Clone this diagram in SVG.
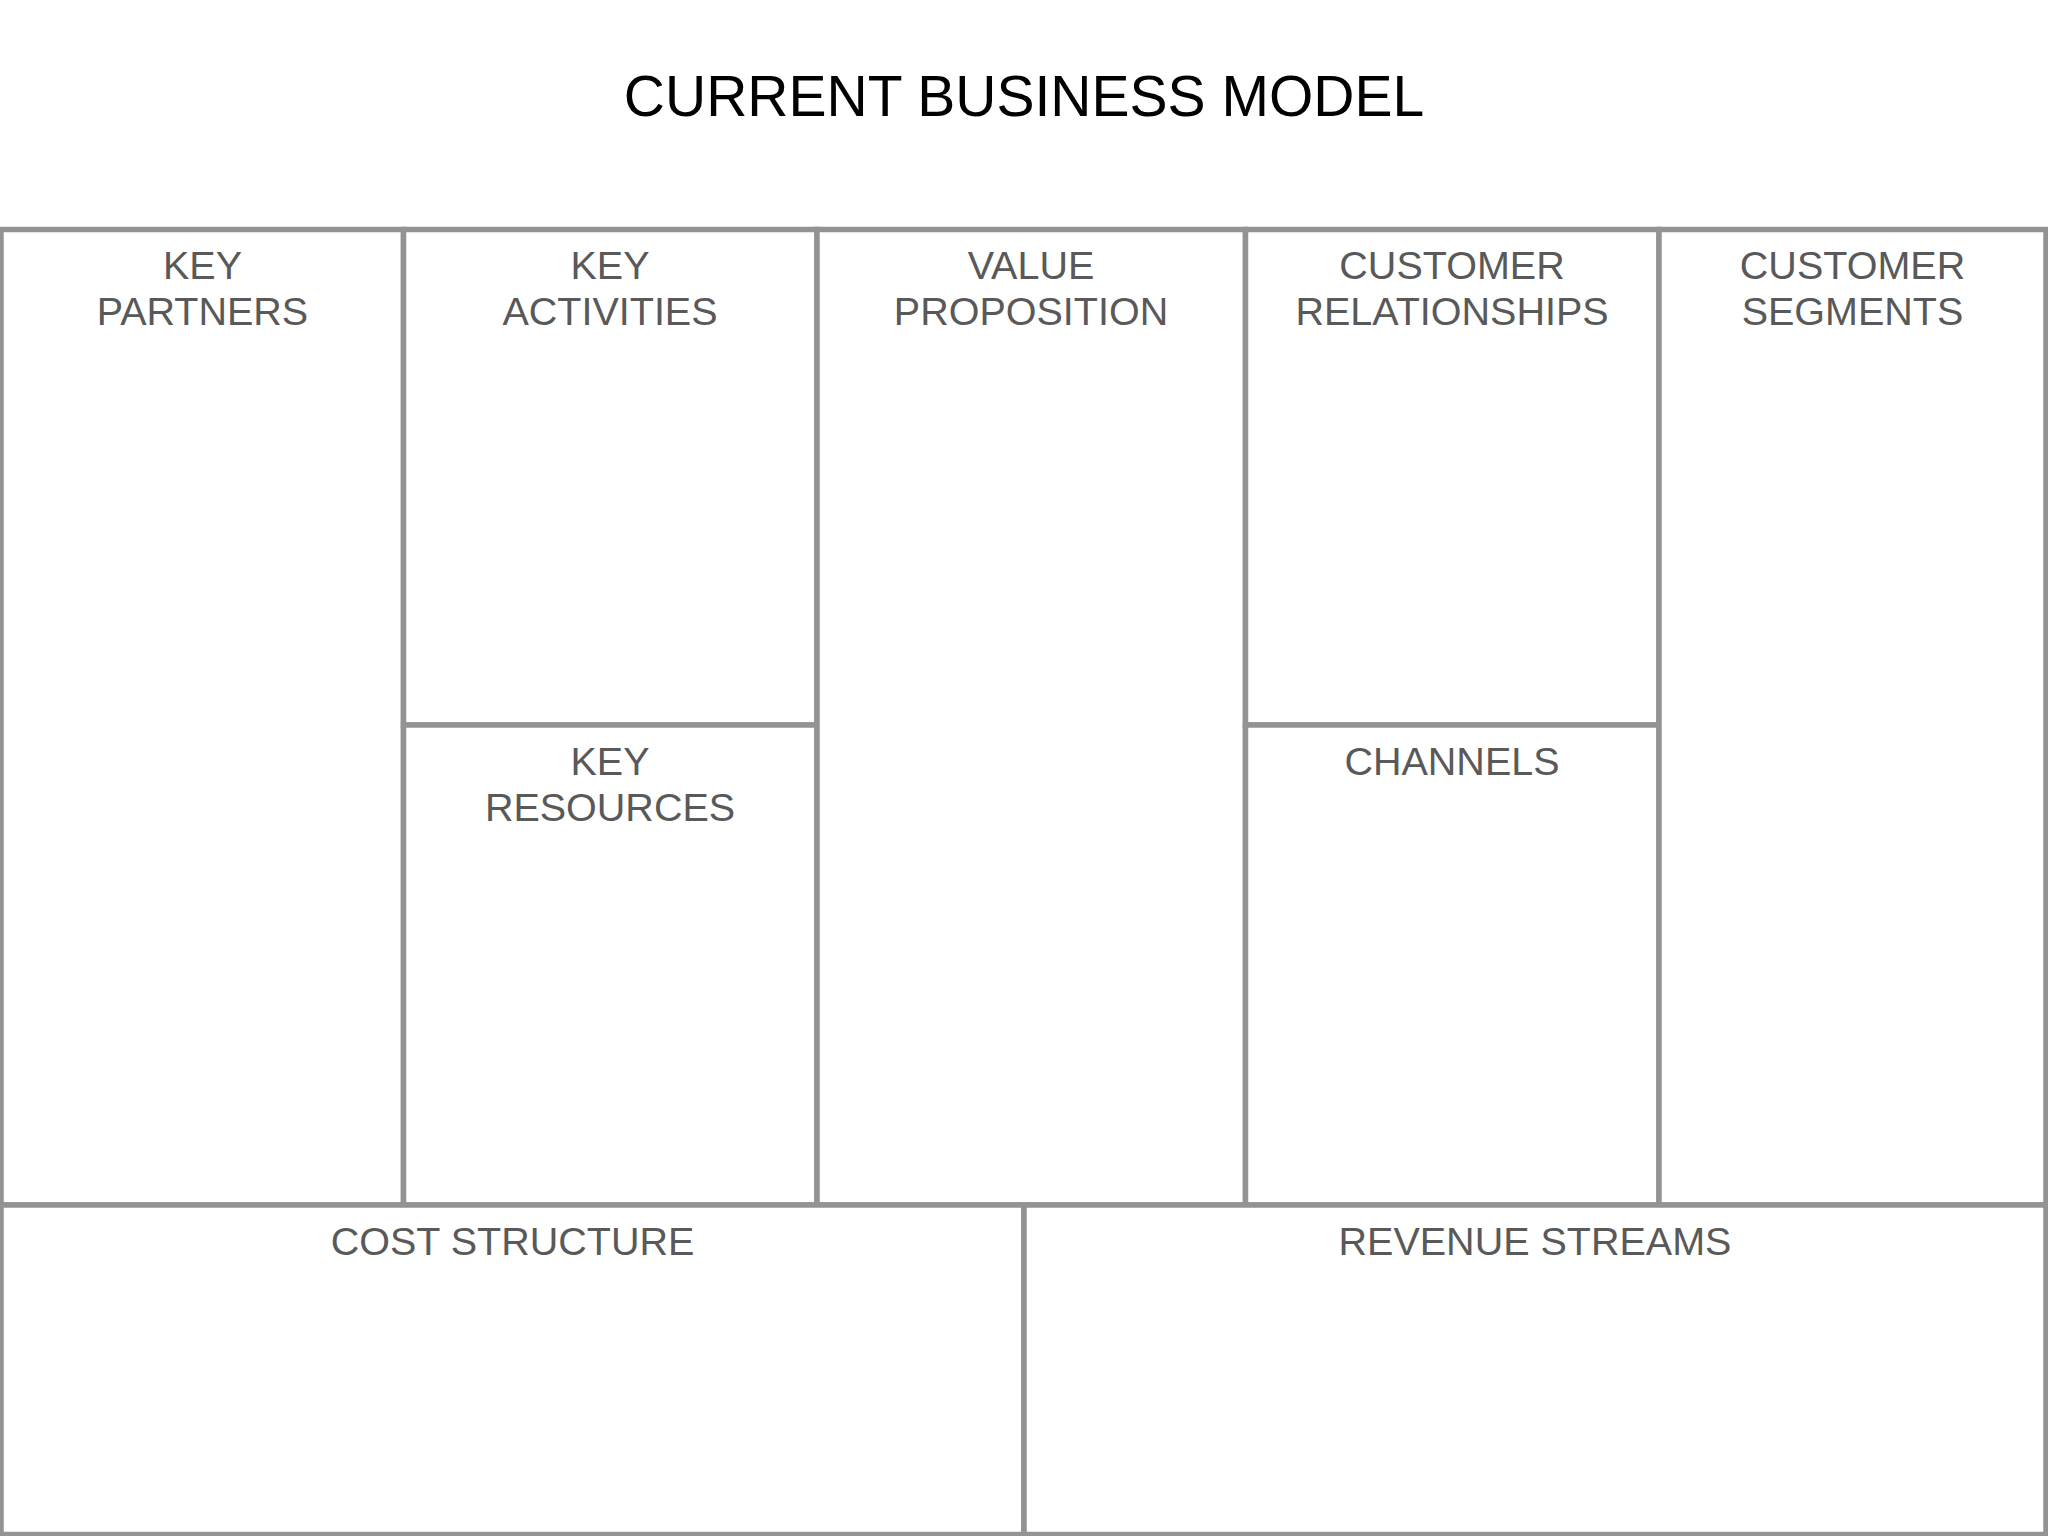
<svg xmlns="http://www.w3.org/2000/svg" width="2048" height="1536" viewBox="0 0 2048 1536">
<style>
.box{fill:#ffffff;stroke:#939393;stroke-width:5.5}
.lbl{font-family:"Liberation Sans",Arial,sans-serif;font-size:39.5px;fill:#595959;text-anchor:middle}
.title{font-family:"Liberation Sans",Arial,sans-serif;font-size:57px;fill:#000000;text-anchor:middle}
</style>
<rect width="2048" height="1536" fill="#ffffff"/>
<text class="title" x="1024" y="116">CURRENT BUSINESS MODEL</text>
<g id="key-partners"><rect class="box" x="1" y="229.5" width="402.5" height="975.5"/><text class="lbl" x="202.5" y="279">KEY</text><text class="lbl" x="202.5" y="325">PARTNERS</text></g>
<g id="key-activities"><rect class="box" x="403.5" y="229.5" width="413.5" height="495.5"/><text class="lbl" x="610" y="279">KEY</text><text class="lbl" x="610" y="325">ACTIVITIES</text></g>
<g id="key-resources"><rect class="box" x="403.5" y="725" width="413.5" height="480"/><text class="lbl" x="610" y="775">KEY</text><text class="lbl" x="610" y="821">RESOURCES</text></g>
<g id="value-proposition"><rect class="box" x="817" y="229.5" width="428.5" height="975.5"/><text class="lbl" x="1031" y="279">VALUE</text><text class="lbl" x="1031" y="325">PROPOSITION</text></g>
<g id="customer-relationships"><rect class="box" x="1245.5" y="229.5" width="413.5" height="495.5"/><text class="lbl" x="1452" y="279">CUSTOMER</text><text class="lbl" x="1452" y="325">RELATIONSHIPS</text></g>
<g id="channels"><rect class="box" x="1245.5" y="725" width="413.5" height="480"/><text class="lbl" x="1452" y="775">CHANNELS</text></g>
<g id="customer-segments"><rect class="box" x="1659" y="229.5" width="387" height="975.5"/><text class="lbl" x="1852.5" y="279">CUSTOMER</text><text class="lbl" x="1852.5" y="325">SEGMENTS</text></g>
<g id="cost-structure"><rect class="box" x="1" y="1205" width="1023" height="329.5"/><text class="lbl" x="512.5" y="1255">COST STRUCTURE</text></g>
<g id="revenue-streams"><rect class="box" x="1024" y="1205" width="1022" height="329.5"/><text class="lbl" x="1535" y="1255">REVENUE STREAMS</text></g>
<g id="connectors"></g>
</svg>
